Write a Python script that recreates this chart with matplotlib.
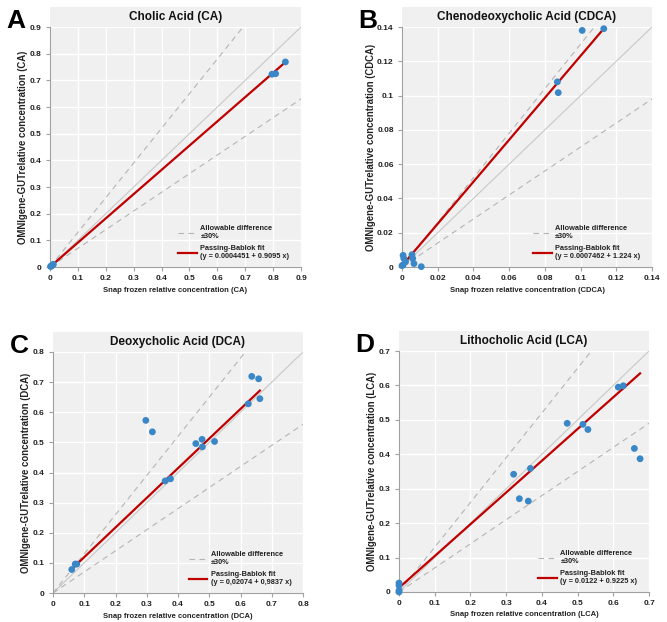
import matplotlib
matplotlib.use('Agg')
import matplotlib.pyplot as plt
from matplotlib.patches import Rectangle
from matplotlib.ticker import FuncFormatter

plt.rcParams['font.family'] = ['Liberation Sans', 'DejaVu Sans']
plt.rcParams['font.weight'] = 'bold'

# data
ca_x = [0.002, 0.004, 0.006, 0.010, 0.012, 0.796, 0.809, 0.844]
ca_y = [0.002, 0.003, 0.005, 0.008, 0.010, 0.723, 0.725, 0.769]

cdca_x = [0.0, 0.0006, 0.0006, 0.001, 0.002, 0.0056, 0.006, 0.0067, 0.0108, 0.087, 0.0875, 0.1009, 0.113]
cdca_y = [0.0008, 0.0012, 0.0068, 0.005, 0.003, 0.0072, 0.005, 0.002, 0.0002, 0.108, 0.1017, 0.138, 0.139]

dca_x = [0.060, 0.071, 0.076, 0.297, 0.318, 0.359, 0.376, 0.457, 0.477, 0.478, 0.517, 0.625, 0.636, 0.658, 0.662]
dca_y = [0.078, 0.096, 0.096, 0.573, 0.535, 0.372, 0.379, 0.496, 0.510, 0.485, 0.503, 0.628, 0.719, 0.711, 0.645]

lca_x = [0.0, 0.0, 0.0, 0.0, 0.321, 0.337, 0.362, 0.368, 0.471, 0.515, 0.529, 0.614, 0.628, 0.659, 0.675]
lca_y = [0.0, 0.004, 0.019, 0.026, 0.342, 0.271, 0.264, 0.359, 0.490, 0.487, 0.472, 0.595, 0.599, 0.417, 0.387]

panels = [
    # letter, title, short, x, y, intercept, slope, fit text, max, step, px box
    ('A', 'Cholic Acid (CA)', 'CA', ca_x, ca_y, 0.0004451, 0.9095,
     '(y = 0.0004451 + 0.9095 x)', 0.9, 0.1, (50, 27, 301, 267)),
    ('B', 'Chenodeoxycholic Acid (CDCA)', 'CDCA', cdca_x, cdca_y, 0.0007462, 1.224,
     '(y = 0.0007462 + 1.224 x)', 0.14, 0.02, (402, 27, 652, 267)),
    ('C', 'Deoxycholic Acid (DCA)', 'DCA', dca_x, dca_y, 0.02074, 0.9837,
     '(y = 0,02074 + 0,9837 x)', 0.8, 0.1, (53, 352, 303, 593)),
    ('D', 'Lithocholic Acid (LCA)', 'LCA', lca_x, lca_y, 0.0122, 0.9225,
     '(y = 0.0122 + 0.9225 x)', 0.7, 0.1, (399, 351, 649, 592)),
]

W, H = 667, 622
fig = plt.figure(figsize=(W / 100, H / 100), dpi=100)
bg = '#f0f0f0'

for letter, title, short, xs, ys, b0, b1, fit_txt, vmax, step, box in panels:
    l, t, r, b = box
    ax = fig.add_axes([l / W, (H - b) / H, (r - l) / W, (b - t) / H])
    ax.set_facecolor(bg)
    # title band
    band = 20 / (b - t)
    ax.add_patch(Rectangle((0, 1), 1, band, transform=ax.transAxes, facecolor=bg,
                           edgecolor='none', clip_on=False, zorder=0))
    ax.text(0.5, 1 + band / 2, title, transform=ax.transAxes, ha='center', va='center',
            fontsize=8.5, fontweight='bold', color='#111111')
    fig.text((l - 34) / W, (H - t + 6) / H, letter, fontsize=19, fontweight='bold',
             ha='center', va='center', color='black')

    ticks = [i * step for i in range(int(round(vmax / step)) + 1)]
    ax.set_xticks(ticks)
    ax.set_yticks(ticks)
    fmt = FuncFormatter(lambda v, p: ('%g' % round(v, 4)))
    ax.xaxis.set_major_formatter(fmt)
    ax.yaxis.set_major_formatter(fmt)
    ax.grid(True, color='white', lw=1.0)
    ax.set_axisbelow(True)
    for s in ['top', 'right']:
        ax.spines[s].set_visible(False)
    for s in ['left', 'bottom']:
        ax.spines[s].set_color('#a0a0a0')
    ax.tick_params(labelsize=6, colors='#a0a0a0', labelcolor='#222222', length=3, pad=3)
    for lab in ax.get_xticklabels() + ax.get_yticklabels():
        lab.set_fontweight('bold')

    lim = [0, vmax * 1.5]
    ax.plot(lim, lim, color='#c8c8c8', lw=0.8, zorder=1)
    ax.plot(lim, [v * 1.3 for v in lim], color='#b4b4b4', lw=0.8, ls=(0, (5, 4)), zorder=1,
            label='Allowable difference\n±30%')
    ax.plot(lim, [v * 0.7 for v in lim], color='#b4b4b4', lw=0.8, ls=(0, (5, 4)), zorder=1)
    x0, x1 = min(xs), max(xs)
    ax.plot([x0, x1], [b0 + b1 * x0, b0 + b1 * x1], color='#c00000', lw=1.6, zorder=3,
            label='Passing-Bablok fit\n' + fit_txt)
    ax.scatter(xs, ys, s=24, color='#3a87c8', zorder=4, edgecolors='none', clip_on=False)

    ax.set_xlim(0, vmax)
    ax.set_ylim(0, vmax)
    ax.set_xlabel('Snap frozen relative concentration (%s)' % short, fontsize=5.5,
                  fontweight='bold', color='#222222', labelpad=3)
    ax.set_ylabel('OMNIgene-GUTrelative concentration (%s)' % short, fontsize=6.9,
                  fontweight='bold', color='#222222', labelpad=1)
    leg = ax.legend(loc='lower right', bbox_to_anchor=(0.98, 0.0), frameon=False,
                    fontsize=5.3, handlelength=2.5, labelspacing=0.7, handletextpad=0.5)
    for txt in leg.get_texts():
        txt.set_fontweight('bold')
        txt.set_color('#222222')

fig.savefig('out.png', dpi=100, facecolor='white')
